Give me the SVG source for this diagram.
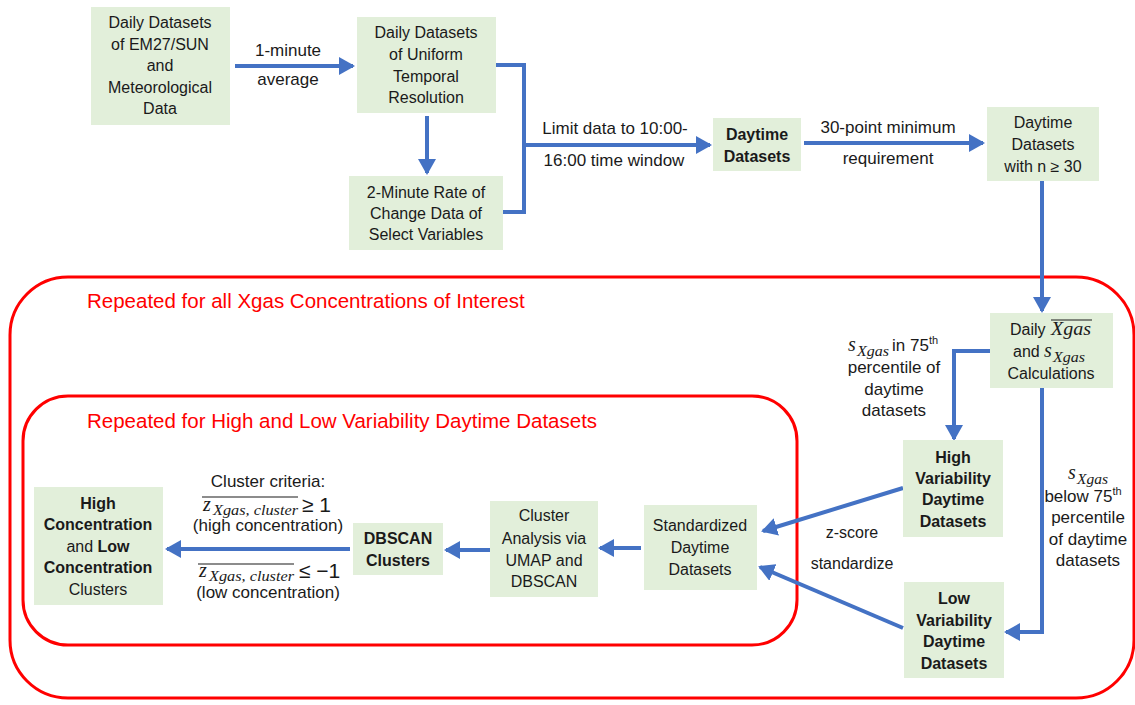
<svg xmlns="http://www.w3.org/2000/svg" width="1135" height="705" viewBox="0 0 1135 705">
<defs>
<style>
.box{fill:#E2EFDA}
.t{font-family:"Liberation Sans",Arial,sans-serif;font-size:16px;fill:#1a1a1a;text-anchor:middle}
.l{font-family:"Liberation Sans",Arial,sans-serif;font-size:17px;fill:#1a1a1a;text-anchor:middle}
.s{font-family:"Liberation Sans",Arial,sans-serif;font-size:17px;fill:#1a1a1a}
.b{font-weight:bold}
.red{font-family:"Liberation Sans",Arial,sans-serif;font-size:20.5px;fill:#FF0000}
.m{font-family:"Liberation Serif","DejaVu Serif",serif;font-style:italic;font-size:20px;fill:#1a1a1a}
.ms{font-family:"Liberation Serif","DejaVu Serif",serif;font-style:italic;font-size:14px;fill:#1a1a1a}
.c{fill:none;stroke:#4472C4;stroke-width:4}
.ov{stroke:#1a1a1a;stroke-width:1.2}
.frame{fill:none;stroke:#FF0000;stroke-width:3}
</style>
<marker id="ah" markerUnits="userSpaceOnUse" markerWidth="16" markerHeight="18" refX="14" refY="9" orient="auto">
<path d="M0,0 L16,9 L0,18 Z" fill="#4472C4"/>
</marker>
</defs>
<rect width="1135" height="705" fill="#ffffff"/>

<g id="frames">
<rect class="frame" x="10" y="277" width="1124" height="421" rx="58" ry="58"/>
<text class="red" x="87" y="308">Repeated for all Xgas Concentrations of Interest</text>
<rect class="frame" x="23" y="396" width="774" height="249" rx="45" ry="45"/>
<text class="red" x="87" y="428">Repeated for High and Low Variability Daytime Datasets</text>
</g>

<g id="connectors">
<line class="c" x1="235" y1="66" x2="353" y2="66" marker-end="url(#ah)"/>
<line class="c" x1="427" y1="116" x2="427" y2="173" marker-end="url(#ah)"/>
<polyline class="c" points="496,65 524,65 524,212 503,212"/>
<line class="c" x1="524" y1="145" x2="710" y2="145" marker-end="url(#ah)"/>
<line class="c" x1="804" y1="143" x2="983" y2="143" marker-end="url(#ah)"/>
<line class="c" x1="1042" y1="181" x2="1042" y2="311" marker-end="url(#ah)"/>
<polyline class="c" points="990,351 954,351 954,439" marker-end="url(#ah)"/>
<polyline class="c" points="1042,388 1042,632 1006,632" marker-end="url(#ah)"/>
<line class="c" x1="903" y1="488" x2="763" y2="531" marker-end="url(#ah)"/>
<line class="c" x1="903" y1="628" x2="760" y2="567" marker-end="url(#ah)"/>
<line class="c" x1="641" y1="548" x2="600" y2="548" marker-end="url(#ah)"/>
<line class="c" x1="490" y1="550" x2="446" y2="550" marker-end="url(#ah)"/>
<line class="c" x1="350" y1="549" x2="167" y2="549" marker-end="url(#ah)"/>
</g>

<g id="labels">
<text class="l" x="288" y="56">1-minute</text>
<text class="l" x="288" y="85">average</text>
<text class="l" x="615" y="134">Limit data to 10:00-</text>
<text class="l" x="614" y="166">16:00 time window</text>
<text class="l" x="888" y="133">30-point minimum</text>
<text class="l" x="888" y="164">requirement</text>

<text class="m" x="848" y="351">s</text>
<text class="ms" x="857" y="356" textLength="32" lengthAdjust="spacingAndGlyphs">Xgas</text>
<text class="s" x="892" y="351">in 75<tspan style="font-size:11px" dy="-7">th</tspan></text>
<text class="l" x="894" y="373">percentile of</text>
<text class="l" x="894" y="395">daytime</text>
<text class="l" x="894" y="416">datasets</text>

<text class="m" x="1068" y="479">s</text>
<text class="ms" x="1077" y="484" textLength="31" lengthAdjust="spacingAndGlyphs">Xgas</text>
<text class="l" x="1083" y="502">below 75<tspan style="font-size:11px" dy="-7">th</tspan></text>
<text class="l" x="1088" y="523">percentile</text>
<text class="l" x="1088" y="545">of daytime</text>
<text class="l" x="1088" y="566">datasets</text>

<text class="t" x="852" y="538">z-score</text>
<text class="t" x="852" y="569">standardize</text>

<text class="l" x="268" y="487">Cluster criteria:</text>
<text class="m" x="203" y="511">z</text>
<text class="ms" x="213" y="515" textLength="85" lengthAdjust="spacingAndGlyphs">Xgas, cluster</text>
<text class="s" x="302" y="512" style="font-size:21px">≥ 1</text>
<line class="ov" x1="202" y1="497" x2="298" y2="497"/>
<text class="l" x="268" y="531">(high concentration)</text>
<text class="m" x="199" y="577">z</text>
<text class="ms" x="209" y="581" textLength="85" lengthAdjust="spacingAndGlyphs">Xgas, cluster</text>
<text class="s" x="299" y="578" style="font-size:21px">≤ −1</text>
<line class="ov" x1="198" y1="564" x2="294" y2="564"/>
<text class="l" x="268" y="598">(low concentration)</text>
</g>

<g id="n1">
<rect class="box" x="91" y="7" width="139" height="118"/>
<text class="t" x="160" y="28">Daily Datasets</text>
<text class="t" x="160" y="50">of EM27/SUN</text>
<text class="t" x="160" y="71">and</text>
<text class="t" x="160" y="93">Meteorological</text>
<text class="t" x="160" y="114">Data</text>
</g>
<g id="n2">
<rect class="box" x="357" y="17" width="139" height="96"/>
<text class="t" x="426" y="38">Daily Datasets</text>
<text class="t" x="426" y="60">of Uniform</text>
<text class="t" x="426" y="82">Temporal</text>
<text class="t" x="426" y="103">Resolution</text>
</g>
<g id="n3">
<rect class="box" x="349" y="176" width="154" height="74"/>
<text class="t" x="426" y="198">2-Minute Rate of</text>
<text class="t" x="426" y="219">Change Data of</text>
<text class="t" x="426" y="240">Select Variables</text>
</g>
<g id="n4">
<rect class="box" x="713" y="118" width="88" height="53"/>
<text class="t b" x="757" y="140">Daytime</text>
<text class="t b" x="757" y="162">Datasets</text>
</g>
<g id="n5">
<rect class="box" x="987" y="107" width="112" height="74"/>
<text class="t" x="1043" y="128">Daytime</text>
<text class="t" x="1043" y="150">Datasets</text>
<text class="t" x="1043" y="172">with n ≥ 30</text>
</g>
<g id="n6">
<rect class="box" x="990" y="313" width="123" height="75"/>
<text class="s" x="1010" y="335" style="font-size:16px">Daily</text>
<text class="m" x="1051" y="335" style="font-size:19px" textLength="40" lengthAdjust="spacingAndGlyphs">Xgas</text>
<line class="ov" x1="1051" y1="320" x2="1092" y2="320"/>
<text class="s" x="1013" y="357" style="font-size:16px">and</text>
<text class="m" x="1044" y="357">s</text>
<text class="ms" x="1053" y="362" textLength="32" lengthAdjust="spacingAndGlyphs">Xgas</text>
<text class="t" x="1051" y="379">Calculations</text>
</g>
<g id="n7">
<rect class="box" x="903" y="440" width="100" height="97"/>
<text class="t b" x="953" y="463">High</text>
<text class="t b" x="953" y="484">Variability</text>
<text class="t b" x="953" y="505">Daytime</text>
<text class="t b" x="953" y="527">Datasets</text>
</g>
<g id="n8">
<rect class="box" x="904" y="582" width="100" height="96"/>
<text class="t b" x="954" y="604">Low</text>
<text class="t b" x="954" y="626">Variability</text>
<text class="t b" x="954" y="647">Daytime</text>
<text class="t b" x="954" y="669">Datasets</text>
</g>
<g id="n9">
<rect class="box" x="644" y="505" width="113" height="85"/>
<text class="t" x="700" y="531">Standardized</text>
<text class="t" x="700" y="553">Daytime</text>
<text class="t" x="700" y="575">Datasets</text>
</g>
<g id="n10">
<rect class="box" x="490" y="501" width="108" height="96"/>
<text class="t" x="544" y="521">Cluster</text>
<text class="t" x="544" y="544">Analysis via</text>
<text class="t" x="544" y="566">UMAP and</text>
<text class="t" x="544" y="587">DBSCAN</text>
</g>
<g id="n11">
<rect class="box" x="353" y="523" width="90" height="52"/>
<text class="t b" x="398" y="544">DBSCAN</text>
<text class="t b" x="398" y="566">Clusters</text>
</g>
<g id="n12">
<rect class="box" x="34" y="487" width="129" height="118"/>
<text class="t b" x="98" y="509">High</text>
<text class="t b" x="98" y="530">Concentration</text>
<text class="t" x="98" y="552">and <tspan class="b">Low</tspan></text>
<text class="t b" x="98" y="573">Concentration</text>
<text class="t" x="98" y="595">Clusters</text>
</g>
</svg>
